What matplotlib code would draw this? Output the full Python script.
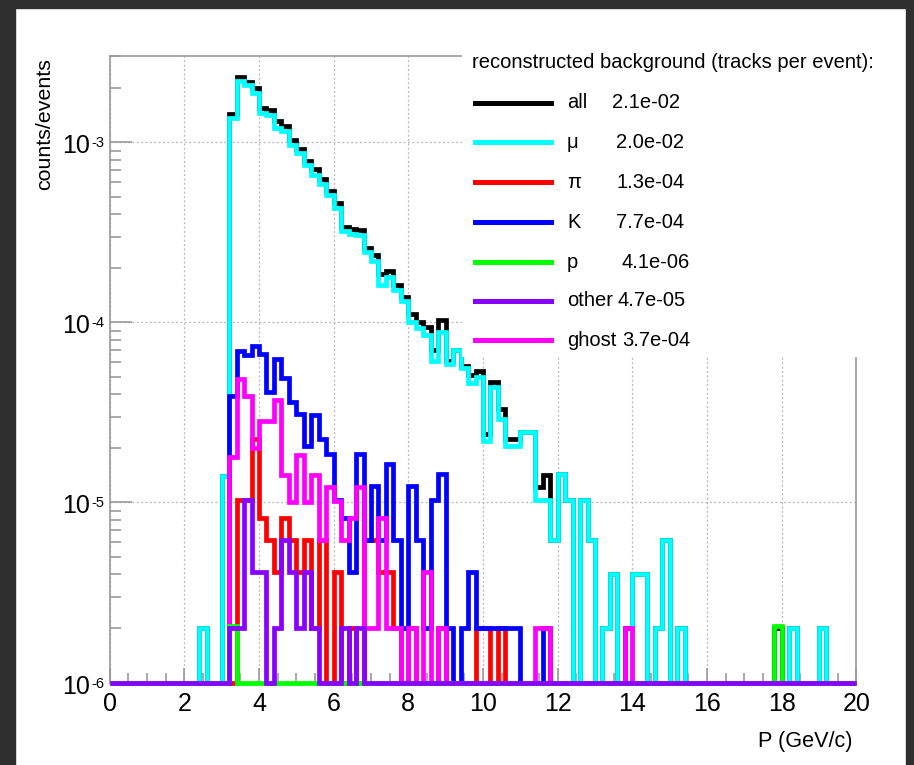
import numpy as np
import matplotlib
matplotlib.use("Agg")
import matplotlib.pyplot as plt
from matplotlib.lines import Line2D
from matplotlib.patches import Rectangle
from matplotlib.ticker import LogLocator, MultipleLocator, NullFormatter
from matplotlib.transforms import blended_transform_factory, offset_copy

plt.rcParams["font.family"] = ["Liberation Sans", "DejaVu Sans"]

# 100 bins of 0.2 GeV/c from 0 to 20
edges = np.linspace(0.0, 20.0, 101)
bin_width = 0.2

# bin contents (counts/events); each list starts at the bin whose low edge is *_first
all_first = 2.4
all_tracks = [
    2e-6, 0, 0, 1.4e-5,
    1.44e-3, 2.30e-3, 2.16e-3, 2.00e-3, 1.56e-3, 1.52e-3, 1.31e-3, 1.24e-3, 1.03e-3, 9.2e-4,
    7.9e-4, 7.1e-4, 6.3e-4, 5.4e-4, 4.6e-4, 3.4e-4, 3.3e-4, 3.25e-4, 2.6e-4, 2.37e-4,
    1.85e-4, 1.94e-4, 1.62e-4, 1.38e-4, 1.12e-4, 1.0e-4, 9.4e-5, 7.0e-5, 1.03e-4, 6.1e-5,
    7.0e-5, 5.75e-5, 5.1e-5, 5.35e-5, 2.4e-5, 4.65e-5, 3.3e-5, 2.25e-5, 2.25e-5, 2.45e-5,
    2.45e-5, 1.22e-5, 1.42e-5, 6.2e-6, 1.43e-5, 1.03e-5, 0, 1.03e-5, 6.2e-6, 0,
    2e-6, 4e-6, 0, 2e-6, 4e-6, 4e-6, 0, 2e-6, 6.2e-6, 0,
    2e-6, 0, 0, 0, 0, 0, 0, 0, 0, 0,
    0, 0, 0, 2e-6, 0, 2e-6, 0, 0, 0, 2e-6,
]

mu_first = 2.4
mu = [
    2e-6, 0, 0, 1.4e-5,
    1.37e-3, 2.20e-3, 2.07e-3, 1.88e-3, 1.45e-3, 1.42e-3, 1.20e-3, 1.16e-3, 9.7e-4, 8.7e-4,
    7.5e-4, 6.6e-4, 5.9e-4, 5.1e-4, 4.3e-4, 3.2e-4, 3.1e-4, 3.05e-4, 2.45e-4, 2.2e-4,
    1.62e-4, 1.78e-4, 1.52e-4, 1.32e-4, 1.0e-4, 9.3e-5, 8.5e-5, 6.1e-5, 8.8e-5, 5.9e-5,
    7.0e-5, 5.6e-5, 4.6e-5, 5.0e-5, 2.2e-5, 4.4e-5, 2.9e-5, 2.05e-5, 2.05e-5, 2.45e-5,
    2.45e-5, 1.03e-5, 1.03e-5, 6.2e-6, 1.43e-5, 1.03e-5, 0, 1.03e-5, 6.2e-6, 0,
    2e-6, 4e-6, 0, 0, 4e-6, 4e-6, 0, 2e-6, 6.2e-6, 0,
    2e-6, 0, 0, 0, 0, 0, 0, 0, 0, 0,
    0, 0, 0, 0, 0, 2e-6, 0, 0, 0, 2e-6,
]

pi_first = 3.4
pi = [
    1.03e-5, 1.03e-5, 2.25e-5, 8.2e-6, 6.2e-6, 4.1e-6, 8.2e-6, 6.2e-6, 4.1e-6, 6.2e-6,
    2e-6, 6.2e-6, 0, 4.1e-6, 0, 2e-6, 0, 6.2e-6, 6.2e-6, 4.1e-6,
    4.1e-6, 2e-6, 0, 2e-6, 0, 0, 0, 2e-6, 0, 0,
    0, 0, 2e-6, 2e-6, 0, 2e-6,
]

k_first = 3.2
kaon = [
    3.9e-5, 6.9e-5, 6.6e-5, 7.4e-5, 6.7e-5, 4.1e-5, 6.3e-5, 4.9e-5, 3.6e-5, 3.1e-5,
    2.05e-5, 3.05e-5, 2.25e-5, 1.85e-5, 1.03e-5, 8.2e-6, 4.1e-6, 1.85e-5, 6.2e-6, 1.23e-5,
    6.2e-6, 1.64e-5, 6.2e-6, 2e-6, 1.23e-5, 6.2e-6, 2e-6, 1.03e-5, 1.43e-5, 2e-6,
    0, 2e-6, 4.1e-6, 2e-6, 2e-6, 2e-6, 2e-6, 2e-6, 2e-6, 0,
    0, 0, 2e-6,
]

p_first = 3.2
proton = [2.05e-6] + [0.0] * 72 + [2.05e-6]

other_first = 3.2
other = [
    2e-6, 2e-6, 1.03e-5, 4.1e-6, 4.1e-6, 0, 2e-6, 6.2e-6, 4.1e-6, 2e-6,
    4.1e-6, 2e-6, 0, 0, 0, 2e-6, 0, 2e-6,
]

ghost_first = 3.2
ghost = [
    1.8e-5, 4.85e-5, 3.9e-5, 2.0e-5, 2.85e-5, 2.85e-5, 3.7e-5, 1.42e-5, 1.0e-5, 1.84e-5,
    1.0e-5, 1.42e-5, 6.2e-6, 1.22e-5, 1.02e-5, 6.2e-6, 8.2e-6, 1.22e-5, 2e-6, 2e-6,
    8.2e-6, 2e-6, 2e-6, 0, 2e-6, 0, 4.1e-6, 0, 2e-6, 0,
    0, 0, 0, 0, 0, 0, 0, 0, 0, 0,
    0, 2e-6, 2e-6, 0, 0, 0, 0, 0, 0, 0,
    0, 0, 0, 2e-6,
]

names = ["all", "\u03bc", "\u03c0", "K", "p", "other", "ghost"]
totals = [2.1e-2, 2.0e-2, 1.3e-4, 7.7e-4, 4.1e-6, 4.7e-5, 3.7e-4]
colors = ["#000000", "#00ffff", "#ff0000", "#0000ff", "#00ff00", "#8800ff", "#ff00ff"]
zorders = [3, 4, 5, 6, 8, 9, 7]
y_decades = [-6, -5, -4, -3]

W, H = 914, 765
YMIN, YMAX = 1e-6, 3.03e-3


def fill(first, vals):
    h = np.zeros(len(edges) - 1)
    i0 = int(round(first / bin_width))
    h[i0:i0 + len(vals)] = vals
    return h


def fx(px):
    return px / W


def fy(py):
    return 1 - py / H


series = [
    fill(all_first, all_tracks),
    fill(mu_first, mu),
    fill(pi_first, pi),
    fill(k_first, kaon),
    fill(p_first, proton),
    fill(other_first, other),
    fill(ghost_first, ghost),
]

fig = plt.figure(figsize=(W / 100, H / 100), dpi=100)
ax = fig.add_axes([fx(109.7), fy(682.5), fx(856.3) - fx(109.7), fy(55.7) - fy(682.5)])

for h, c, z in zip(series, colors, zorders):
    # empty bins sit on the bottom of the frame, as in the log-scale original
    ax.stairs(np.maximum(h, YMIN), edges, baseline=None, color=c, lw=3.4,
              zorder=z, clip_on=False)

ax.set_yscale("log")
ax.set_xlim(0, 20)
ax.set_ylim(YMIN, YMAX)

ax.xaxis.set_major_locator(MultipleLocator(2))
ax.xaxis.set_minor_locator(MultipleLocator(0.5))
ax.yaxis.set_major_locator(LogLocator(base=10))
ax.yaxis.set_minor_locator(LogLocator(base=10, subs=np.arange(2, 10)))
ax.yaxis.set_minor_formatter(NullFormatter())
ax.yaxis.set_major_formatter(NullFormatter())

ax.grid(True, which="major", color="#b4b4b4", linestyle=(0, (1.5, 2.0)), lw=0.9, zorder=1)
ax.set_axisbelow(True)

for s in ax.spines.values():
    s.set_color("#9a9a9a")
    s.set_linewidth(1.2)

ax.tick_params(axis="both", which="both", direction="in", color="#9a9a9a",
               labelsize=18, width=1.2)
ax.tick_params(axis="x", which="major", length=11, pad=7)
ax.tick_params(axis="x", which="minor", length=7)
ax.tick_params(axis="y", which="major", length=16, pad=6)
ax.tick_params(axis="y", which="minor", length=8)

# ROOT-style decade labels: "10" with a small raised exponent
ylab_trans = blended_transform_factory(fig.transFigure, ax.transData)
for n in y_decades:
    base_t = offset_copy(ylab_trans, fig=fig, y=-4, units="dots")
    exp_t = offset_copy(ylab_trans, fig=fig, y=6, units="dots")
    ax.text(fx(90), 10.0 ** n, "10", transform=base_t, ha="right", va="center",
            fontsize=18, clip_on=False)
    ax.text(fx(91), 10.0 ** n, f"-{-n}", transform=exp_t, ha="left", va="top",
            fontsize=10.5, clip_on=False)

fig.text(fx(45), fy(58), "counts/events", rotation=90, ha="center", va="top", fontsize=15.4)
fig.text(fx(852), fy(742), "P (GeV/c)", ha="right", va="center", fontsize=15.6)

# dark screenshot border
border = "#2f2f2f"
fig.add_artist(Rectangle((0, 0), fx(15), 1, transform=fig.transFigure, color=border, zorder=20))
fig.add_artist(Rectangle((0, fy(8)), 1, 1 - fy(8), transform=fig.transFigure, color=border, zorder=20))
fig.add_artist(Rectangle((fx(906), 0), 1 - fx(906), 1, transform=fig.transFigure, color=border, zorder=20))

# legend box
fig.add_artist(Rectangle((fx(462), fy(357)), fx(885) - fx(462), fy(42) - fy(357),
                         transform=fig.transFigure, facecolor="white", edgecolor="none", zorder=10))
fig.text(fx(472), fy(62), "reconstructed background (tracks per event):",
         ha="left", va="center", fontsize=14.5, zorder=11)
row_y = [103, 142, 182, 222, 262, 301, 340]
value_x = [612, 616, 616, 616, 621, 618, 622]
for name, tot, c, ry, vx in zip(names, totals, colors, row_y, value_x):
    fig.add_artist(Line2D([fx(475), fx(551)], [fy(ry), fy(ry)], transform=fig.transFigure,
                          color=c, lw=3.6, zorder=11))
    fig.text(fx(567), fy(ry), name, ha="left", va="center", fontsize=14.5, zorder=11)
    fig.text(fx(vx), fy(ry), f"{tot:.1e}", ha="left", va="center", fontsize=14.5, zorder=11)

fig.savefig("out.png", dpi=100)
